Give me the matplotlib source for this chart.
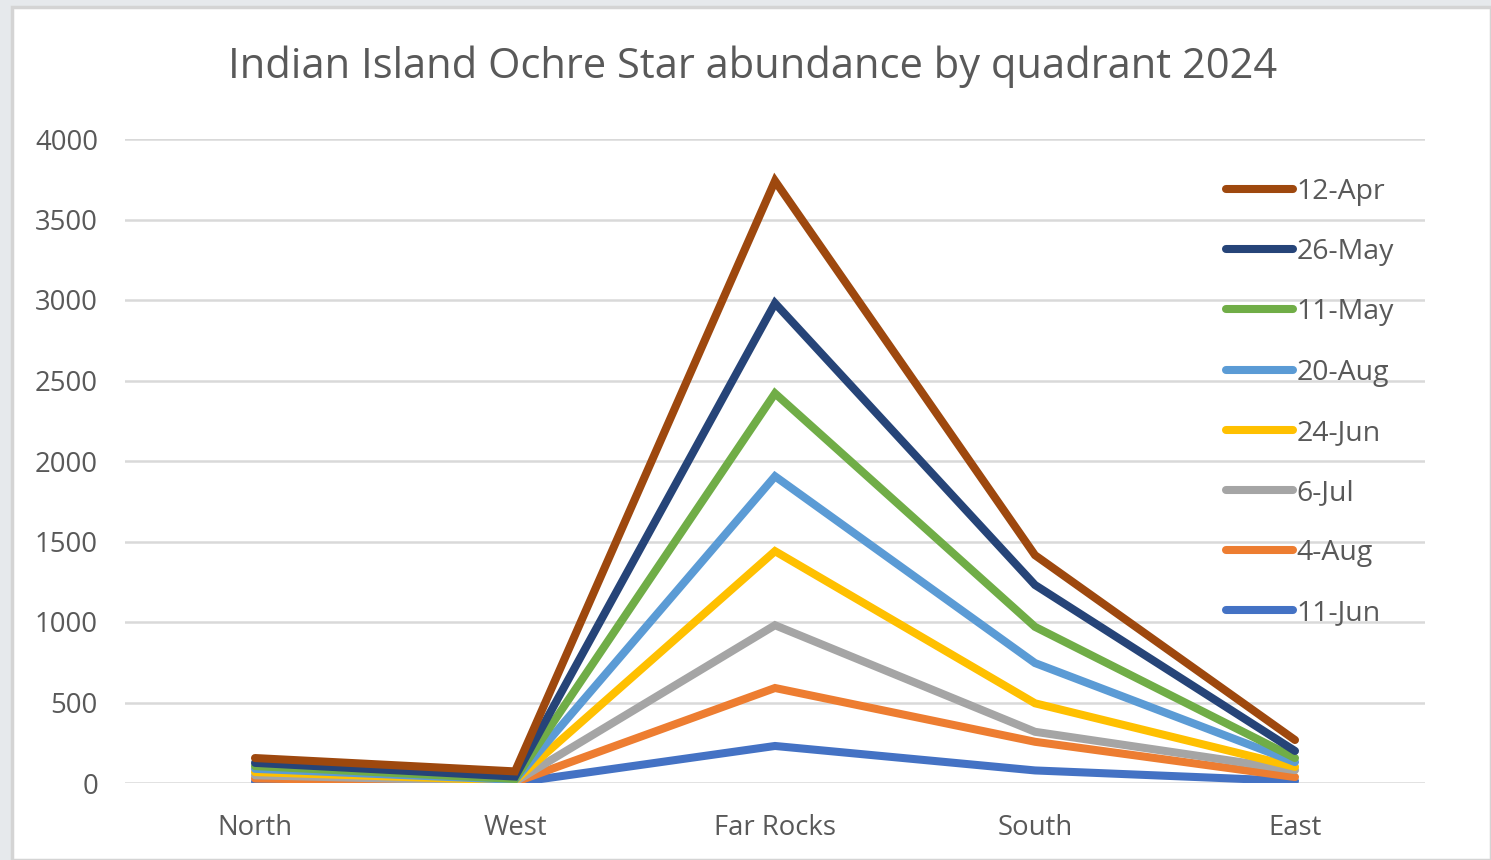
import matplotlib
matplotlib.use("Agg")
import matplotlib.pyplot as plt
from matplotlib.patches import Rectangle

quadrants = ["North", "West", "Far Rocks", "South", "East"]

series_names = ["12-Apr", "26-May", "11-May", "20-Aug", "24-Jun", "6-Jul", "4-Aug", "11-Jun"]
series_colors = ["#9E480E", "#264478", "#70AD47", "#5B9BD5", "#FFC000", "#A5A5A5", "#ED7D31", "#4472C4"]

apr12 = [155, 72, 3740, 1415, 267]
may26 = [125, 40, 2980, 1230, 199]
may11 = [105, 25, 2420, 970, 155]
aug20 = [88, 20, 1905, 745, 130]
jun24 = [68, 15, 1440, 495, 100]
jul6 = [48, 8, 980, 318, 80]
aug4 = [28, 5, 590, 256, 37]
jun11 = [8, 2, 230, 78, 12]

series_values = [apr12, may26, may11, aug20, jun24, jul6, aug4, jun11]

y_ticks = [0, 500, 1000, 1500, 2000, 2500, 3000, 3500, 4000]

W, H = 1491, 860
fig = plt.figure(figsize=(W / 100, H / 100), dpi=100)
fig.patch.set_facecolor("#e6e9ec")

# white chart area with light border
fig.patches.append(Rectangle((12 / W, 0), (W - 12) / W, (H - 7) / H, transform=fig.transFigure,
                             facecolor="white", edgecolor="#d4d4d4", linewidth=2.5, zorder=-10))

font = "Open Sans"
text_color = "#595959"

ax = fig.add_axes([125 / W, (H - 783) / H, 1300 / W, 644 / H])
ax.set_facecolor("none")
ax.set_zorder(5)

x = list(range(len(quadrants)))
n = len(series_names)
for i, (name, col, vals) in enumerate(zip(series_names, series_colors, series_values)):
    ax.plot(x, vals, color=col, linewidth=5.8, label=name, zorder=10 + (n - i),
            solid_capstyle="round", solid_joinstyle="miter")

ax.set_xlim(-0.5, len(quadrants) - 0.5)
ax.set_ylim(0, 4000)
ax.set_yticks(y_ticks)
ax.set_xticks(x)
ax.set_xticklabels(quadrants)
ax.grid(axis="y", color="#d9d9d9", linewidth=1.8, zorder=0)
ax.set_axisbelow(True)
for s in ax.spines.values():
    s.set_visible(False)
ax.tick_params(axis="both", length=0, labelsize=19.8, labelcolor=text_color)
ax.tick_params(axis="y", pad=19.5)
ax.tick_params(axis="x", pad=22)
for lab in ax.get_xticklabels() + ax.get_yticklabels():
    lab.set_fontfamily(font)

fig.text(753 / W, 1 - 67 / H, "Indian Island Ochre Star abundance by quadrant 2024",
         ha="center", va="center", fontsize=30, color=text_color, fontfamily=font)

leg = ax.legend(loc="upper left", bbox_to_anchor=(1226 / W, 1 - 178 / H),
                bbox_transform=fig.transFigure, frameon=False,
                prop={"family": font, "size": 20.5}, labelcolor=text_color,
                handlelength=2.35, handletextpad=0.12, labelspacing=1.13, borderpad=0,
                borderaxespad=0)
for h in leg.get_lines():
    h.set_linewidth(5.8)
    h.set_solid_capstyle("round")

fig.savefig("out.png", dpi=100, facecolor=fig.get_facecolor())
